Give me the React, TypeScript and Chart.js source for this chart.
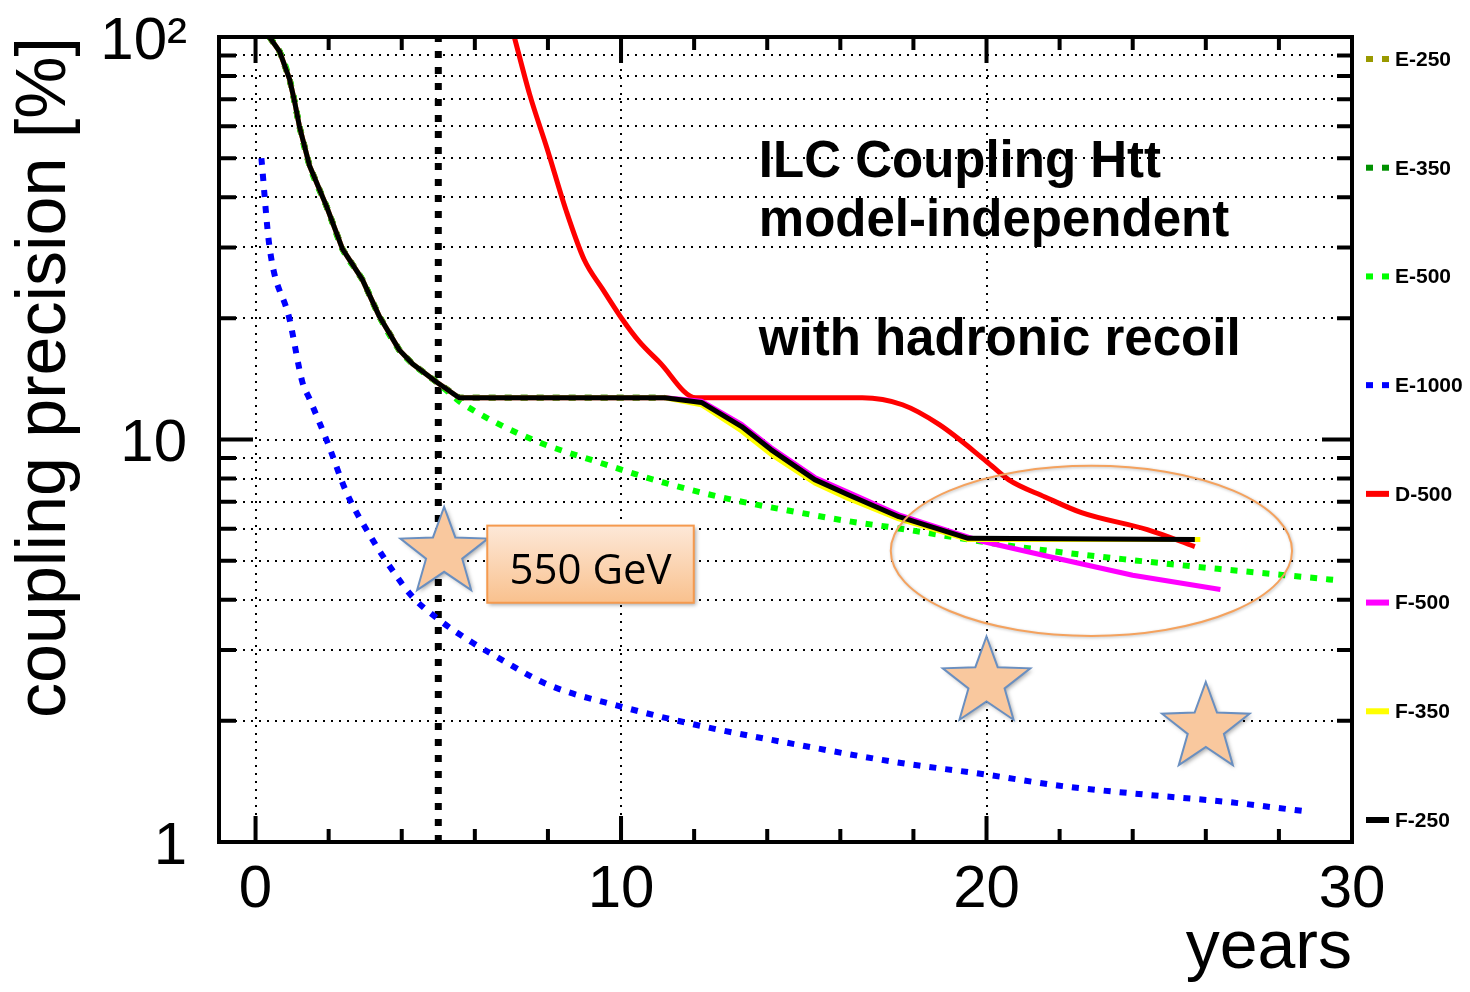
import React, { useEffect, useRef } from 'react';
import { Chart, registerables } from 'chart.js';

Chart.register(...registerables);

const FONT = "'Liberation Sans', Arial, Helvetica, sans-serif";

// ---- data (years, coupling precision in %) ----
const seriesLabels = ['E-250', 'E-350', 'E-500', 'E-1000', 'D-500', 'F-500', 'F-350', 'F-250'];
const seriesColors = ['#999900', '#009100', '#00ff00', '#0000ff', '#ff0000', '#ff00ff', '#ffff00', '#000000'];
const seriesDashed = [true, true, true, true, false, false, false, false];

// common first (250 GeV) running segment shared by E-250/E-350/E-500/F-*
const earlyYears = [0.38, 0.66, 0.93, 1.07, 1.2, 1.48, 1.94, 2.38, 2.92, 3.39, 3.93, 4.3, 4.95, 5.57];
const earlyPrecision = [100, 92, 78.6, 69, 60, 47.8, 38, 29.7, 25, 20.2, 16.7, 15.4, 13.9, 12.7];

const e250Years = [11.2];
const e250Precision = [12.7];
const e350Years = [11.2];
const e350Precision = [12.7];

const e500Years = [5.77, 7.57, 9.4, 11.2, 13.0, 14.9, 16.3, 17.3, 20.8, 24.4, 29.5];
const e500Precision = [12.1, 10.0, 8.77, 7.8, 7.1, 6.58, 6.25, 6.07, 5.42, 4.97, 4.48];

const e1000Years = [0.16, 0.38, 0.93, 1.28, 1.48, 1.97, 2.49, 3.2, 3.74, 4.29, 5.03, 5.93, 6.58, 8.0, 10.0, 12.1, 14.9, 17.5, 20.0, 22.0, 24.4, 26.5, 28.8];
const e1000Precision = [50, 30.2, 19.9, 13.9, 12.6, 9.83, 7.38, 5.64, 4.74, 4.07, 3.56, 3.13, 2.89, 2.46, 2.17, 1.95, 1.74, 1.58, 1.47, 1.38, 1.31, 1.26, 1.19];

const d500Years = [7.08, 7.5, 7.98, 8.5, 8.99, 9.5, 10.0, 10.5, 11.04, 12.05, 16.6, 17.7, 18.7, 20.0, 20.6, 21.6, 22.6, 24.4, 25.7];
const d500Precision = [100, 72, 52.7, 37, 28, 23.6, 20.1, 17.5, 15.6, 12.7, 12.7, 12.2, 10.9, 8.82, 7.95, 7.2, 6.58, 5.97, 5.42];

const f500Years = [11.2, 12.2, 13.3, 14.1, 15.3, 16.2, 17.6, 19.5, 19.9, 21.7, 24.0, 26.4];
const f500Precision = [12.7, 12.45, 10.9, 9.55, 8.05, 7.4, 6.5, 5.72, 5.58, 5.12, 4.6, 4.24];

const f350Years = [11.2, 12.2, 13.3, 14.1, 15.3, 16.2, 17.6, 19.5, 25.85];
const f350Precision = [12.7, 12.2, 10.5, 9.2, 7.8, 7.15, 6.35, 5.64, 5.64];

const f250Years = [11.2, 12.2, 13.3, 14.1, 15.3, 16.2, 17.6, 19.5, 25.7];
const f250Precision = [12.7, 12.36, 10.77, 9.44, 7.95, 7.3, 6.43, 5.68, 5.64];

const markerYear = 5; // dotted vertical line
const markerRange = [1, 100];

// ticks
const xTickValues = [0, 2, 4, 6, 8, 10, 12, 14, 16, 18, 20, 22, 24, 26, 28, 30];
const xTickLabels = ['0', '10', '20', '30'];
const yTickValues = [1, 2, 3, 4, 5, 6, 7, 8, 9, 10, 20, 30, 40, 50, 60, 70, 80, 90, 100];
const yTickLabels: Record<number, string> = { 1: '1', 10: '10', 100: '10\u00b2' };

// annotation anchors (data coordinates)
const starCenters = [
  { x: 5.16, y: 5.23 },
  { x: 20.0, y: 2.49 },
  { x: 26.0, y: 1.92 },
];
const boxCorners = { x0: 6.34, x1: 11.99, yTop: 6.11, yBottom: 3.93 };
const boxText = '550 GeV';
const ellipseBounds = { x0: 17.38, x1: 28.36, yTop: 8.61, yBottom: 3.25 };
const titleLines = [
  { text: 'ILC Coupling Htt', x: 13.77, y: 44.9 },
  { text: 'model-independent', x: 13.77, y: 32.0 },
  { text: 'with hadronic recoil', x: 13.77, y: 16.2 },
];

function zip(xs: number[], ys: number[]) {
  return xs.map((x, i) => ({ x, y: ys[i] }));
}

function starPath(ctx: CanvasRenderingContext2D, cx: number, cy: number, R: number, r: number) {
  ctx.beginPath();
  for (let i = 0; i < 10; i++) {
    const ang = -Math.PI / 2 + (i * Math.PI) / 5;
    const rad = i % 2 === 0 ? R : r;
    const px = cx + rad * Math.cos(ang);
    const py = cy + rad * Math.sin(ang);
    if (i === 0) ctx.moveTo(px, py);
    else ctx.lineTo(px, py);
  }
  ctx.closePath();
}

const overlayPlugin = {
  id: 'overlay',
  afterDraw(chart: any) {
    const { ctx, chartArea: a, scales } = chart;
    const x = scales.x;
    const y = scales.y;
    ctx.save();

    // inward ticks on all four sides
    ctx.strokeStyle = '#000';
    ctx.lineWidth = 4;
    ctx.lineCap = 'butt';
    ctx.beginPath();
    for (const v of xTickValues) {
      const px = x.getPixelForValue(v);
      const len = v % 10 === 0 ? 26 : 13;
      ctx.moveTo(px, a.bottom);
      ctx.lineTo(px, a.bottom - len);
      ctx.moveTo(px, a.top);
      ctx.lineTo(px, a.top + len);
    }
    for (const v of yTickValues) {
      const py = y.getPixelForValue(v);
      const major = v === 1 || v === 10 || v === 100;
      ctx.moveTo(a.left, py);
      ctx.lineTo(a.left + (major ? 34 : 17), py);
      ctx.moveTo(a.right, py);
      ctx.lineTo(a.right - (major ? 30 : 15), py);
    }
    ctx.stroke();
    ctx.strokeRect(a.left, a.top, a.right - a.left, a.bottom - a.top);

    // text block
    ctx.fillStyle = '#000';
    ctx.font = `bold 51px ${FONT}`;
    ctx.textAlign = 'left';
    ctx.textBaseline = 'alphabetic';
    for (const t of titleLines) {
      ctx.fillText(t.text, x.getPixelForValue(t.x), y.getPixelForValue(t.y));
    }

    // ellipse
    {
      const ex0 = x.getPixelForValue(ellipseBounds.x0);
      const ex1 = x.getPixelForValue(ellipseBounds.x1);
      const ey0 = y.getPixelForValue(ellipseBounds.yTop);
      const ey1 = y.getPixelForValue(ellipseBounds.yBottom);
      ctx.save();
      ctx.shadowColor = 'rgba(0,0,0,0.25)';
      ctx.shadowBlur = 3;
      ctx.shadowOffsetX = 1;
      ctx.shadowOffsetY = 1;
      ctx.strokeStyle = '#f4a25e';
      ctx.lineWidth = 2;
      ctx.beginPath();
      ctx.ellipse((ex0 + ex1) / 2, (ey0 + ey1) / 2, (ex1 - ex0) / 2, (ey1 - ey0) / 2, 0, 0, Math.PI * 2);
      ctx.stroke();
      ctx.restore();
    }

    // stars
    for (const s of starCenters) {
      const cx = x.getPixelForValue(s.x);
      const cy = y.getPixelForValue(s.y);
      ctx.save();
      ctx.shadowColor = 'rgba(0,0,0,0.35)';
      ctx.shadowBlur = 4;
      ctx.shadowOffsetX = 2;
      ctx.shadowOffsetY = 2;
      starPath(ctx, cx, cy, 46, 19);
      ctx.fillStyle = '#f9c89e';
      ctx.fill();
      ctx.restore();
      starPath(ctx, cx, cy, 46, 19);
      ctx.strokeStyle = '#6a8fc0';
      ctx.lineWidth = 2;
      ctx.stroke();
    }

    // 550 GeV box
    {
      const bx0 = x.getPixelForValue(boxCorners.x0);
      const bx1 = x.getPixelForValue(boxCorners.x1);
      const by0 = y.getPixelForValue(boxCorners.yTop);
      const by1 = y.getPixelForValue(boxCorners.yBottom);
      const g = ctx.createLinearGradient(0, by0, 0, by1);
      g.addColorStop(0, '#fde8d8');
      g.addColorStop(1, '#f9c18e');
      ctx.save();
      ctx.shadowColor = 'rgba(0,0,0,0.35)';
      ctx.shadowBlur = 4;
      ctx.shadowOffsetX = 2;
      ctx.shadowOffsetY = 2;
      ctx.fillStyle = g;
      ctx.fillRect(bx0, by0, bx1 - bx0, by1 - by0);
      ctx.restore();
      ctx.strokeStyle = '#f59a4e';
      ctx.lineWidth = 2;
      ctx.strokeRect(bx0, by0, bx1 - bx0, by1 - by0);
      ctx.fillStyle = '#000';
      ctx.font = `42px 'Open Sans', ${FONT}`;
      ctx.textAlign = 'center';
      ctx.textBaseline = 'alphabetic';
      ctx.fillText(boxText, (bx0 + bx1) / 2, by1 - 19);
    }

    // legend (right side)
    const n = seriesLabels.length;
    const y0 = a.top + 22;
    const step = (a.bottom - a.top - 44) / (n - 1);
    const lx = a.right + 14;
    ctx.font = `bold 21px ${FONT}`;
    ctx.textAlign = 'left';
    ctx.textBaseline = 'middle';
    chart.data.datasets.forEach((ds: any) => {
      const idx = seriesLabels.indexOf(ds.label);
      if (idx < 0) return;
      const ly = y0 + idx * step;
      ctx.fillStyle = ds.borderColor;
      if (seriesDashed[idx]) {
        ctx.fillRect(lx, ly - 3, 7, 6);
        ctx.fillRect(lx + 16, ly - 3, 7, 6);
      } else {
        ctx.fillRect(lx, ly - 3, 23, 6);
      }
      ctx.fillStyle = '#000';
      ctx.fillText(ds.label, lx + 29, ly + 1);
    });

    ctx.restore();
  },
};

export default function App() {
  const ref = useRef<HTMLCanvasElement | null>(null);

  useEffect(() => {
    if (!ref.current) return;
    const seriesData = [
      zip([...earlyYears, ...e250Years], [...earlyPrecision, ...e250Precision]),
      zip([...earlyYears, ...e350Years], [...earlyPrecision, ...e350Precision]),
      zip([...earlyYears.slice(0, -1), 5.5, ...e500Years], [...earlyPrecision.slice(0, -1), 12.6, ...e500Precision]),
      zip(e1000Years, e1000Precision),
      zip(d500Years, d500Precision),
      zip([...earlyYears, ...f500Years], [...earlyPrecision, ...f500Precision]),
      zip([...earlyYears, ...f350Years], [...earlyPrecision, ...f350Precision]),
      zip([...earlyYears, ...f250Years], [...earlyPrecision, ...f250Precision]),
    ];
    const drawOrder = [7, 6, 4, 3, 5, 2, 1, 0];
    const datasets: any[] = seriesLabels.map((label, i) => ({
      label,
      data: seriesData[i],
      borderColor: seriesColors[i],
      backgroundColor: seriesColors[i],
      borderWidth: seriesDashed[i] ? 6 : 5,
      borderDash: seriesDashed[i] ? [7, 9] : [],
      borderCapStyle: 'butt',
      borderJoinStyle: 'round',
      pointRadius: 0,
      pointHoverRadius: 0,
      fill: false,
      tension: 0,
      cubicInterpolationMode: i === 3 || i === 4 || i === 2 ? 'monotone' : 'default',
      order: drawOrder[i],
    }));
    datasets.push({
      label: 'marker',
      data: [
        { x: markerYear, y: markerRange[0] },
        { x: markerYear, y: markerRange[1] },
      ],
      borderColor: '#000',
      borderWidth: 7,
      borderDash: [7, 9],
      borderCapStyle: 'butt',
      pointRadius: 0,
      fill: false,
      order: 10,
    });

    const chart = new Chart(ref.current, {
      type: 'line',
      data: { datasets },
      options: {
        animation: false,
        responsive: false,
        devicePixelRatio: 1,
        parsing: false as any,
        normalized: true,
        events: [],
        layout: { padding: { top: 37, right: 118, bottom: 0, left: 0 } },
        plugins: {
          legend: { display: false },
          tooltip: { enabled: false },
        },
        scales: {
          x: {
            type: 'linear',
            position: 'bottom',
            min: -1,
            max: 30,
            afterBuildTicks: (s: any) => {
              s.ticks = xTickValues.map((v) => ({ value: v }));
            },
            afterFit: (s: any) => {
              s.height = 150;
              s.paddingLeft = 0;
              s.paddingRight = 0;
            },
            grid: {
              drawTicks: false,
              lineWidth: 2,
              color: (c: any) =>
                c.tick && c.tick.value % 10 === 0 && c.tick.value < 30 ? '#000' : 'rgba(0,0,0,0)',
            },
            border: { display: false, dash: [2, 6] },
            ticks: {
              autoSkip: false,
              maxRotation: 0,
              padding: 12,
              color: '#000',
              font: { family: FONT, size: 60 },
              callback: (v: any) => (xTickLabels.includes(String(v)) ? String(v) : ''),
            },
            title: {
              display: true,
              text: 'years',
              align: 'end',
              color: '#000',
              font: { family: FONT, size: 68 },
              padding: { top: 0, bottom: 2 },
            },
          },
          y: {
            type: 'logarithmic',
            position: 'left',
            min: 1,
            max: 100,
            afterBuildTicks: (s: any) => {
              s.ticks = yTickValues.map((v) => ({ value: v }));
            },
            afterFit: (s: any) => {
              s.width = 219;
              s.paddingTop = 0;
              s.paddingBottom = 0;
            },
            grid: {
              drawTicks: false,
              lineWidth: 2,
              color: (c: any) =>
                c.tick && c.tick.value > 1 && c.tick.value < 100 ? '#000' : 'rgba(0,0,0,0)',
            },
            border: { display: false, dash: [2, 6] },
            ticks: {
              autoSkip: false,
              padding: 32,
              labelOffset: 5,
              color: '#000',
              font: { family: FONT, size: 60 },
              callback: (v: any) => yTickLabels[Number(v)] ?? '',
            },
            title: {
              display: true,
              text: 'coupling precision [%]',
              align: 'end',
              color: '#000',
              font: { family: FONT, size: 70 },
              padding: { top: 4, bottom: 0 },
            },
          },
        },
      },
      plugins: [overlayPlugin],
    } as any);

    return () => chart.destroy();
  }, []);

  return (
    <div style={{ position: 'absolute', left: 0, top: 0, width: 1470, height: 992, background: '#fff' }}>
      <canvas ref={ref} width={1470} height={992} style={{ display: 'block', width: 1470, height: 992 }} />
    </div>
  );
}
